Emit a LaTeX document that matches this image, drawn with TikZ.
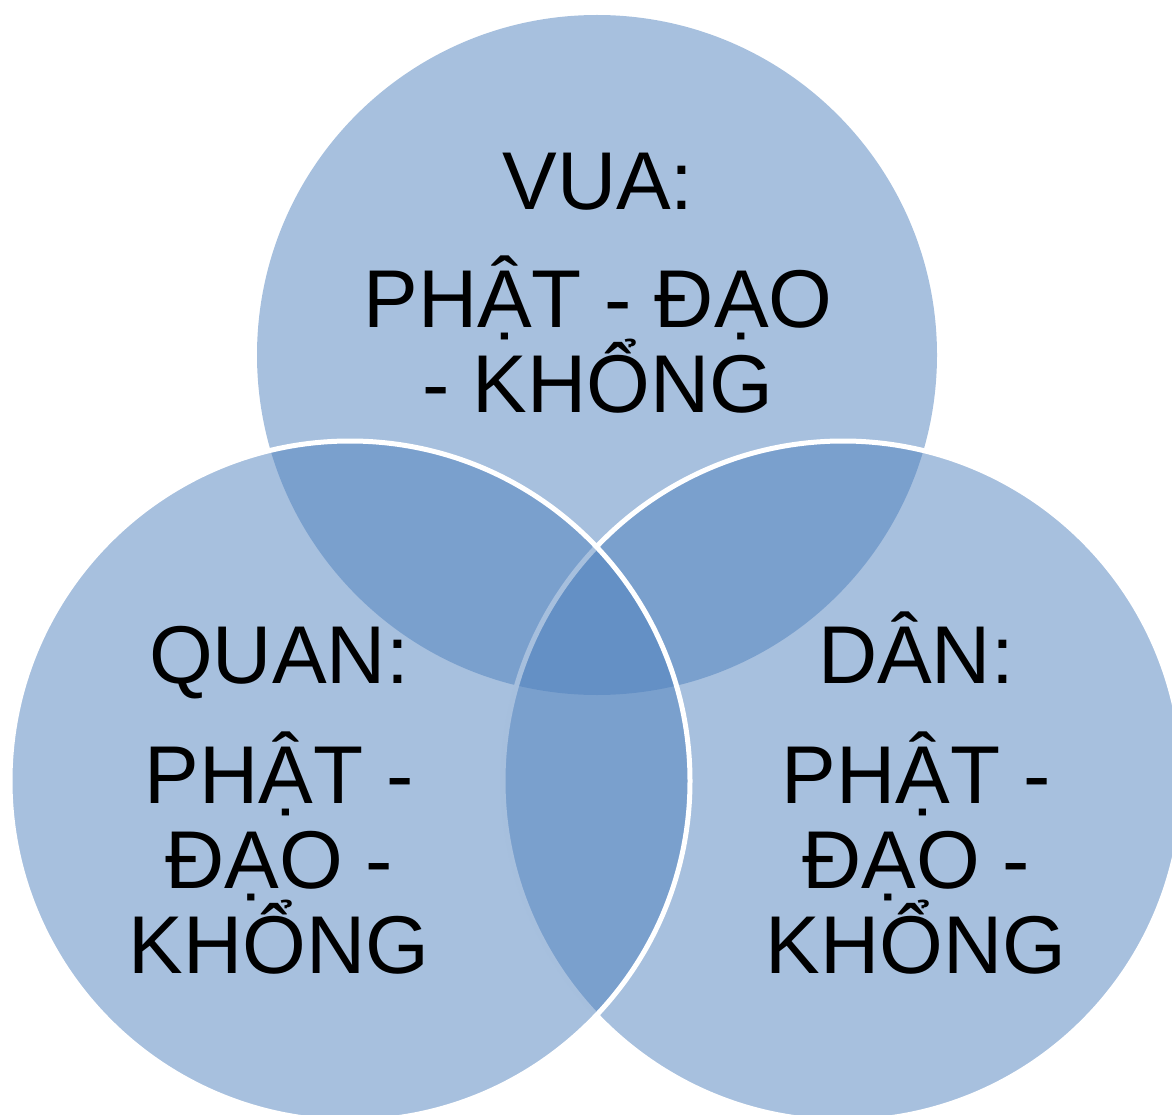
\documentclass[tikz,border=0pt]{standalone}
\usepackage{fontspec}
\setmainfont{Liberation Sans}
\usepackage{tikz}
\definecolor{vennblue}{RGB}{79,129,189}
\newcommand{\venntextfont}{\fontsize{82}{85}\selectfont\lineskiplimit=-1000pt\relax}

\begin{document}
\begin{tikzpicture}[x=1pt,y=-1pt,
		venn/.style={circle,inner sep=0pt,minimum size=680pt,
			fill=vennblue,fill opacity=0.5},
		rim/.style={draw=white,line width=5pt},
		venntext/.style={align=center,inner sep=0pt,anchor=base,
			font=\venntextfont}]
		\useasboundingbox (0,0) rectangle (1172,1115);
		
		\node[venn]     (vua)  at (597,355) {};
		\node[venn,rim] (dan)  at (843,781) {};
		\node[venn,rim] (quan) at (350,781) {};
		
		% anchor base sits on the last line
		\node[venntext] (vuatext)  at (598,412) {VUA:\\[33pt]PHẬT - ĐẠO\\- KHỔNG};
		\node[venntext] (quantext) at (279,973) {QUAN:\\[35pt]PHẬT -\\ĐẠO -\\KHỔNG};
		\node[venntext] (dantext)  at (916,973) {DÂN:\\[35pt]PHẬT -\\ĐẠO -\\KHỔNG};
\end{tikzpicture}
\end{document}
